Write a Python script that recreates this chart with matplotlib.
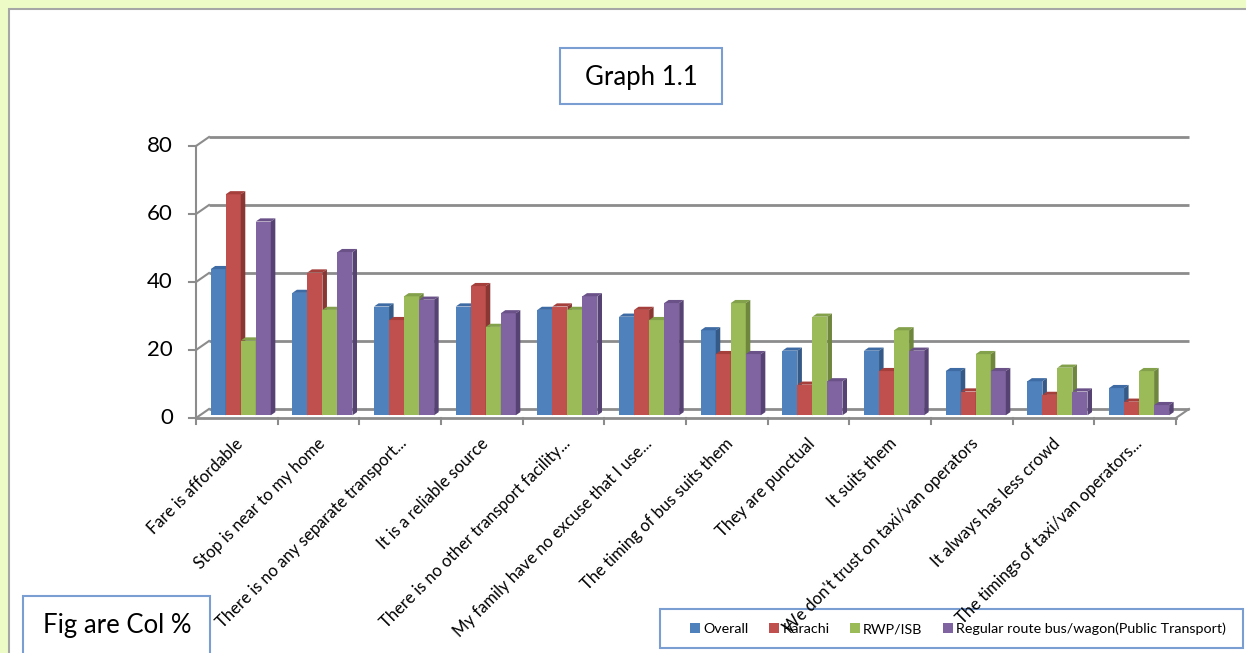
import matplotlib.pyplot as plt
from matplotlib.patches import Rectangle, Polygon, Patch
from matplotlib.transforms import offset_copy

plt.rcParams['font.family'] = ['Lato', 'DejaVu Sans']

# reasons for using the regular bus / wagon, column percentages
categories = [
    "Fare is affordable",
    "Stop is near to my home",
    "There is no any separate transport...",
    "It is a reliable source",
    "There is no other transport facility...",
    "My family have no excuse that I use...",
    "The timing of bus suits them",
    "They are punctual",
    "It suits them",
    "We don't trust on taxi/van operators",
    "It always has less crowd",
    "The timings of taxi/van operators...",
]
overall = [43, 36, 32, 32, 31, 29, 25, 19, 19, 13, 10, 8]
karachi = [65, 42, 28, 38, 32, 31, 18, 9, 13, 7, 6, 4]
rwp_isb = [22, 31, 35, 26, 31, 28, 33, 29, 25, 18, 14, 13]
public_transport = [57, 48, 34, 30, 35, 33, 18, 10, 19, 13, 7, 3]
series_names = ["Overall", "Karachi", "RWP/ISB",
                "Regular route bus/wagon(Public Transport)"]
yticks = [0, 20, 40, 60, 80]

series = [overall, karachi, rwp_isb, public_transport]
face_cols = ["#4F81BD", "#C0504D", "#9BBB59", "#8064A2"]
top_cols = ["#3E6BA3", "#A43F3C", "#83A04A", "#6A5289"]
side_cols = ["#355A88", "#8A3633", "#6E873D", "#574373"]
grid_col = "#8C8C8C"
box_col = "#7B9ED2"

W, H = 1246, 653
fig = plt.figure(figsize=(W / 100, H / 100), dpi=100, facecolor="#EDFCC6")

# white sheet behind everything
fig.add_artist(Rectangle((9 / W, -0.05), 1.0, 1 - 9 / H + 0.05,
                         transform=fig.transFigure, fc="white",
                         ec="#A6A6A6", lw=1.5, zorder=-2))

# front plane of the pseudo-3D chart
ax_l, ax_r, ax_b, ax_t = 196, 1176, 418, 146
ax = fig.add_axes([ax_l / W, (H - ax_b) / H, (ax_r - ax_l) / W, (ax_b - ax_t) / H])
ax.set_xlim(0, len(categories))
ax.set_ylim(0, 80)
ax.axis("off")
ax.set_zorder(1)

ppx = (ax_r - ax_l) / len(categories)   # pixels per category
ppy = (ax_b - ax_t) / 80                # pixels per percent
DX, DY = 13 / ppx, 9 / ppy              # depth of the floor / side wall
n = len(categories)

# back wall gridlines and side wall diagonals
for v in yticks:
    ax.plot([DX, n + DX], [v + DY, v + DY], color=grid_col, lw=2,
            clip_on=False, zorder=1, solid_capstyle="butt")
    ax.plot([0, DX], [v, v + DY], color=grid_col, lw=1.5, clip_on=False, zorder=1)
    ax.plot([-7 / ppx, 0], [v, v], color=grid_col, lw=1.5, clip_on=False, zorder=1)
    ax.text(-23 / ppx, v, str(v), ha="right", va="center", fontsize=16,
            color="black")

# front axis, floor edge and category ticks
ax.plot([0, 0], [0, 80], color=grid_col, lw=1.5, clip_on=False, zorder=1)
ax.plot([0, n], [0, 0], color=grid_col, lw=2, clip_on=False, zorder=1)
ax.plot([n, n + DX], [0, DY], color=grid_col, lw=1.5, clip_on=False, zorder=1)
for k in range(n + 1):
    ax.plot([k, k], [0, -6 / ppy], color=grid_col, lw=1.5, clip_on=False, zorder=1)

# bars drawn left to right so each front face covers its neighbour's side
bw = 0.184
gap = (1 - 4 * bw) / 2
bdx, bdy = 0.3 * DX, 0.3 * DY
ddx, ddy = 0.35 * DX, 0.35 * DY
z = 2
for i in range(n):
    for j, vals in enumerate(series):
        v = vals[i]
        x0 = i + gap + j * bw + bdx
        ax.add_patch(Rectangle((x0, bdy), bw, v, fc=face_cols[j], ec="none",
                               zorder=z, clip_on=False))
        ax.add_patch(Polygon([(x0, v + bdy), (x0 + bw, v + bdy),
                              (x0 + bw + ddx, v + bdy + ddy),
                              (x0 + ddx, v + bdy + ddy)],
                             closed=True, fc=top_cols[j], ec="none",
                             zorder=z, clip_on=False))
        ax.add_patch(Polygon([(x0 + bw, bdy), (x0 + bw + ddx, bdy + ddy),
                              (x0 + bw + ddx, v + bdy + ddy), (x0 + bw, v + bdy)],
                             closed=True, fc=side_cols[j], ec="none",
                             zorder=z, clip_on=False))
        z += 1

# rotated category labels
lab_tr = offset_copy(ax.transData, fig, x=4, y=-23, units="dots")
for i, lab in enumerate(categories):
    ax.text(i + 0.5, 0, lab, rotation=45, ha="right", va="center",
            rotation_mode="anchor", fontsize=12, transform=lab_tr,
            zorder=z + 1)

# title box
fig.add_artist(Rectangle((560 / W, 1 - 104 / H), 162 / W, 56 / H,
                         transform=fig.transFigure, fc="white", ec=box_col,
                         lw=1.5, zorder=0.2))
fig.text(641 / W, 1 - 77 / H, "Graph 1.1", ha="center", va="center",
         fontsize=18.5, zorder=0.3)

# note box, bottom left
fig.add_artist(Rectangle((23 / W, -0.05), 187 / W, 57 / H + 0.05,
                         transform=fig.transFigure, fc="white", ec=box_col,
                         lw=1.5, zorder=0.2))
fig.text(117 / W, 1 - 626 / H, "Fig are Col %", ha="center", va="center",
         fontsize=18.5, zorder=0.3)

# legend box
fig.add_artist(Rectangle((660 / W, 1 - 648 / H), 583 / W, 39 / H,
                         transform=fig.transFigure, fc="white", ec=box_col,
                         lw=1.5, zorder=0.2))
handles = [Patch(fc=c, ec="none") for c in face_cols]
leg = fig.legend(handles, series_names, loc="center", ncol=4,
                 bbox_to_anchor=(958 / W, 1 - 629 / H), frameon=False,
                 fontsize=10.3, handlelength=0.7, handleheight=0.7,
                 handletextpad=0.25, columnspacing=1.4)
leg.set_zorder(0.4)

fig.savefig("out.png", dpi=100, facecolor=fig.get_facecolor())
